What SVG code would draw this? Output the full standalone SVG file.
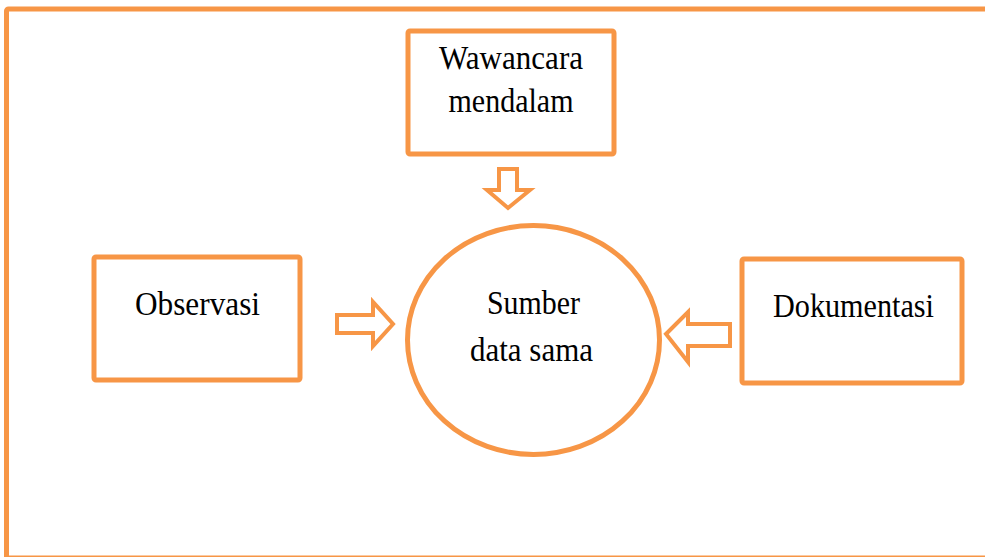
<svg xmlns="http://www.w3.org/2000/svg" width="985" height="557" viewBox="0 0 985 557">
<style>
.o{fill:none;stroke:#F79646;stroke-width:5;stroke-linejoin:round}
.a{fill:#FFFFFF;stroke:#F79646;stroke-width:4;stroke-linejoin:miter}
.t{font-family:"Liberation Serif","Times New Roman",serif;font-size:33px;fill:#000000;text-anchor:middle}
</style>
<rect width="985" height="557" fill="#FFFFFF"/>
<rect id="frame" class="o" x="6.5" y="9" width="990" height="549" rx="2"/>
<g id="wawancara">
<rect class="o" x="408" y="31" width="206" height="123" rx="2"/>
<text class="t" x="511" y="69" textLength="144" lengthAdjust="spacingAndGlyphs">Wawancara</text>
<text class="t" x="511" y="112" textLength="125" lengthAdjust="spacingAndGlyphs">mendalam</text>
</g>
<g id="observasi">
<rect class="o" x="94" y="257" width="206" height="123" rx="2"/>
<text class="t" x="197.5" y="315" textLength="125" lengthAdjust="spacingAndGlyphs">Observasi</text>
</g>
<g id="dokumentasi">
<rect class="o" x="742" y="259" width="220" height="124" rx="2"/>
<text class="t" x="853.5" y="317" textLength="161" lengthAdjust="spacingAndGlyphs">Dokumentasi</text>
</g>
<g id="sumber">
<ellipse class="o" cx="533.5" cy="340" rx="126" ry="114.5"/>
<text class="t" x="533.5" y="314" textLength="93" lengthAdjust="spacingAndGlyphs">Sumber</text>
<text class="t" x="531.5" y="361" textLength="123" lengthAdjust="spacingAndGlyphs">data sama</text>
</g>
<g id="connectors">
<path class="a" d="M499,169 H517 V190 H530 L508,208 L487,190 H499 Z"/>
<path class="a" d="M337,315 H373 V302 L393,324 L373,346 V333 H337 Z"/>
<path class="a" d="M730,324 H688 V312 L666,334 L688,362 V346 H730 Z"/>
</g>
</svg>
